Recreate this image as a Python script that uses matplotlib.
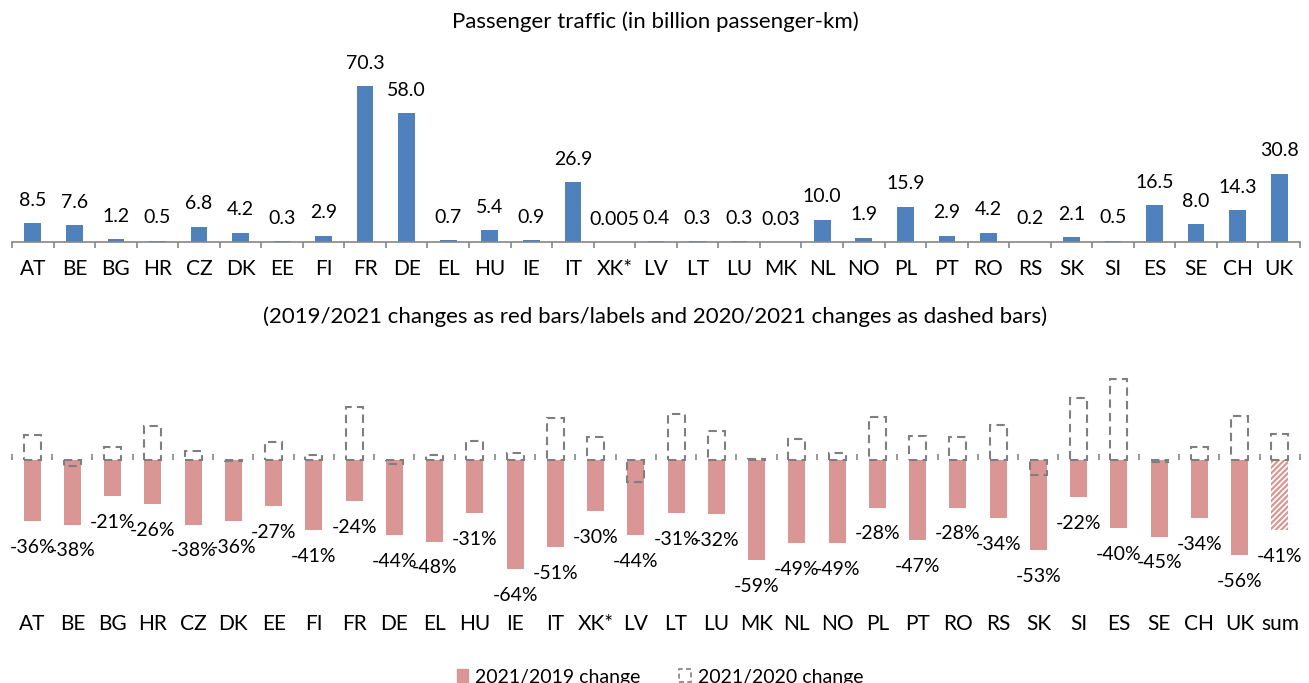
import matplotlib
matplotlib.use("Agg")
import matplotlib.pyplot as plt
from matplotlib.patches import Patch
import numpy as np

plt.rcParams['font.family'] = ['Lato', 'DejaVu Sans']
plt.rcParams['hatch.linewidth'] = 1.6

countries_top = ["AT", "BE", "BG", "HR", "CZ", "DK", "EE", "FI", "FR", "DE", "EL", "HU", "IE", "IT",
                 "XK*", "LV", "LT", "LU", "MK", "NL", "NO", "PL", "PT", "RO", "RS", "SK", "SI", "ES",
                 "SE", "CH", "UK"]
traffic = [8.5, 7.6, 1.2, 0.5, 6.8, 4.2, 0.3, 2.9, 70.3, 58.0, 0.7, 5.4, 0.9, 26.9,
           0.005, 0.4, 0.3, 0.3, 0.03, 10.0, 1.9, 15.9, 2.9, 4.2, 0.2, 2.1, 0.5, 16.5,
           8.0, 14.3, 30.8]
traffic_labels = ["8.5", "7.6", "1.2", "0.5", "6.8", "4.2", "0.3", "2.9", "70.3", "58.0", "0.7",
                  "5.4", "0.9", "26.9", "0.005", "0.4", "0.3", "0.3", "0.03", "10.0", "1.9",
                  "15.9", "2.9", "4.2", "0.2", "2.1", "0.5", "16.5", "8.0", "14.3", "30.8"]

countries_bottom = countries_top + ["sum"]
change_2019 = [-36, -38, -21, -26, -38, -36, -27, -41, -24, -44, -48, -31, -64, -51,
               -30, -44, -31, -32, -59, -49, -49, -28, -47, -28, -34, -53, -22, -40,
               -45, -34, -56, -41]
change_2020 = [15, -3.5, 7.5, 20, 5.5, -0.6, 10.5, 3, 31, -2.5, 3, 11, 4.3, 25,
               13.5, -12.7, 27, 17, 0.5, 12.4, 4.3, 25.5, 14.3, 13.5, 20.6, -8.8, 36.7, 47.5,
               -1, 7.5, 26, 15.5]

BLUE = "#4F81BD"
RED = "#D99694"
GRAY = "#868686"
DASH = "#7F7F7F"
FS = 15      # category labels
FSD = 14     # data labels

W, H = 1309, 683
fig = plt.figure(figsize=(W / 100, H / 100), dpi=100)

def frac_box(left, top, right, bottom):
    return [left / W, (H - bottom) / H, (right - left) / W, (bottom - top) / H]

# ---------- top chart ----------
ax1 = fig.add_axes(frac_box(12, 64.4, 1300, 242))
x1 = np.arange(len(countries_top))
ax1.bar(x1, traffic, width=0.4, color=BLUE)
for xi, v, lab in zip(x1, traffic, traffic_labels):
    ax1.annotate(lab, (xi, v), xytext=(0, 16.5), textcoords="offset points",
                 ha="center", va="center", fontsize=FSD)
ax1.set_xlim(-0.5, len(countries_top) - 0.5)
ax1.set_ylim(0, 80)
for s in ["top", "left", "right"]:
    ax1.spines[s].set_visible(False)
ax1.spines["bottom"].set_color(GRAY)
ax1.spines["bottom"].set_linewidth(1.2)
ax1.set_yticks([])
ax1.set_xticks(x1)
ax1.set_xticklabels(countries_top, fontsize=FS)
ax1.set_xticks(np.arange(-0.5, len(countries_top), 1), minor=True)
ax1.tick_params(axis="x", which="major", length=0, pad=12)
ax1.tick_params(axis="x", which="minor", length=4.5, color=GRAY, width=1.2, direction="out")
fig.text(655 / W, 1 - 22 / H, "Passenger traffic (in billion passenger-km)",
         ha="center", va="center", fontsize=16)

# ---------- bottom chart ----------
ax2 = fig.add_axes(frac_box(12, 366.5, 1300, 613))
x2 = np.arange(len(countries_bottom))
n = len(countries_bottom)
bars = ax2.bar(x2, change_2019, width=0.42, color=RED, edgecolor=RED, linewidth=0)
bars[-1].set_facecolor("white")
bars[-1].set_hatch("//////")
ax2.bar(x2, change_2020, width=0.42, fill=False, edgecolor=DASH, linestyle=(0, (4, 2.5)),
        linewidth=1.5)
for xi, v in zip(x2, change_2019):
    ax2.annotate(f"{v}%", (xi, v), xytext=(0, -19), textcoords="offset points",
                 ha="center", va="center", fontsize=FSD)
ax2.set_xlim(-0.5, n - 0.5)
ax2.set_ylim(-90, 55)
for s in ["top", "left", "right", "bottom"]:
    ax2.spines[s].set_visible(False)
ax2.set_yticks([])
ax2.set_xticks(x2)
ax2.set_xticklabels(countries_bottom, fontsize=FS)
ax2.tick_params(axis="x", which="major", length=0, pad=1)

# zero axis line with category-boundary ticks
y0, y1 = ax2.get_ylim()
zero_frac = (0 - y0) / (y1 - y0)
sec = ax2.secondary_xaxis(zero_frac)
sec.set_xticks(np.arange(-0.5, n, 1))
sec.set_xticklabels([])
sec.tick_params(axis="x", length=4.5, color=GRAY, width=1.2, direction="out")
sec.spines["bottom"].set_color(GRAY)
sec.spines["bottom"].set_linewidth(1.2)
sec.spines["top"].set_visible(False)
for s in ["left", "right"]:
    sec.spines[s].set_visible(False)
sec.set_zorder(0)

fig.text(655 / W, 1 - 317 / H,
         "(2019/2021 changes as red bars/labels and 2020/2021 changes as dashed bars)",
         ha="center", va="center", fontsize=16)

handles = [Patch(facecolor=RED, edgecolor=RED, label="2021/2019 change"),
           Patch(facecolor="none", edgecolor=DASH, linestyle=(0, (3, 2)), linewidth=1.2,
                 label="2021/2020 change")]
fig.legend(handles=handles, loc="center", bbox_to_anchor=(660 / W, 1 - 677 / H),
           ncol=2, frameon=False, fontsize=14, handlelength=0.6, handleheight=0.6,
           handletextpad=0.35, columnspacing=2.0, borderpad=0)

fig.savefig("out.png", dpi=100)
